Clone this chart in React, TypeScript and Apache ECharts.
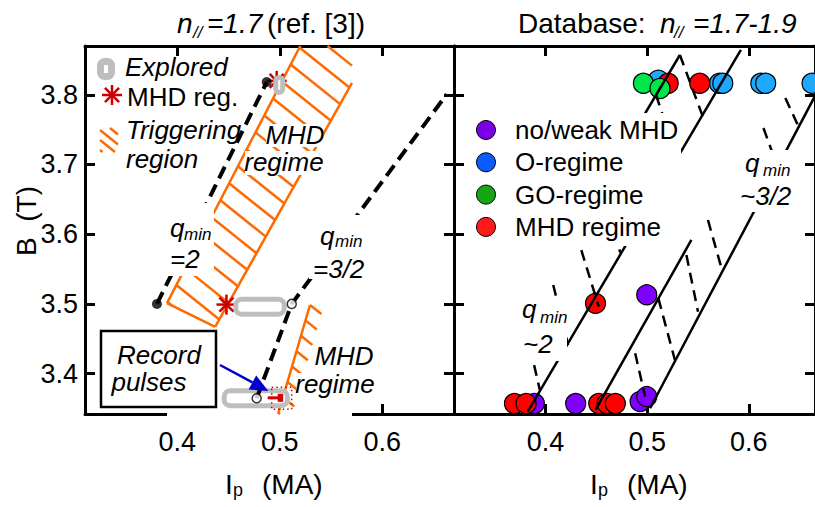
import React, { useEffect, useRef } from 'react';
import * as echarts from 'echarts';

// ---- axes ----
const xTicks = [0.4, 0.5, 0.6];
const yTicks = [3.4, 3.5, 3.6, 3.7, 3.8];
const X_MIN = 0.31;
const X_MAX_LEFT = 0.67;
const X_MAX_RIGHT = 0.6651;
const Y_MIN = 3.342;
const Y_MAX = 3.87;

// ---- left panel: n// = 1.7 (ref. [3]) ----
const qmin2Line = [[0.3802, 3.5], [0.4873, 3.8183]];
const qmin32Line = [[0.4775, 3.3645], [0.5117, 3.5], [0.6629, 3.8007]];
const qminEndsFilled = [[0.3802, 3.5], [0.4873, 3.8183]];
const qminEndsOpen = [[0.5117, 3.5], [0.4775, 3.3645]];

// hatched triggering band (upper MHD regime) and lower MHD regime boundary
const triggerBandI = [0.52, 0.5705, 0.5705, 0.437, 0.39];
const triggerBandB = [3.87, 3.87, 3.817, 3.467, 3.501];
const lowerRegimeI = [0.5295, 0.4984, 0.512, 0.5432];
const lowerRegimeB = [3.4984, 3.342, 3.342, 3.4984];

// explored I_p ranges: [I_from, I_to, B]
const exploredRanges = [
  [0.4995, 0.4995, 3.814],
  [0.4605, 0.5009, 3.496],
  [0.4492, 0.5041, 3.3645],
];
const mhdPulses = [[0.497, 3.82], [0.448, 3.499]];
const recordPulse = [[0.5019, 3.3645]];
const recordArrow = [[0.4417, 3.4123, 0.4888, 3.375]];

// ---- right panel: database n// = 1.7-1.9 ----
const noWeakI = [0.389, 0.4297, 0.4931, 0.4996, 0.4996];
const noWeakB = [3.357, 3.357, 3.36, 3.367, 3.513];
const oRegimeI = [0.511, 0.5712, 0.5744, 0.6118, 0.6166, 0.6622];
const oRegimeB = [3.821, 3.8165, 3.8165, 3.8165, 3.8165, 3.8165];
const mhdRegimeI = [0.3695, 0.3809, 0.4524, 0.4605, 0.4687, 0.4492, 0.5207, 0.5517];
const mhdRegimeB = [3.357, 3.357, 3.357, 3.357, 3.357, 3.5008, 3.8165, 3.8165];
const goRegimeI = [0.4963, 0.5126];
const goRegimeB = [3.8165, 3.809];

// q_min boundaries: [I1, B1, I2, B2]
const solidSegs = [
  [0.3825, 3.3453, 0.5922, 3.8643],
  [0.4492, 3.3478, 0.5435, 3.5917],
  [0.5029, 3.3502, 0.665, 3.798],
  [0.4876, 3.748, 0.5322, 3.8571],
];
const dashedSegs = [
  [0.3809, 3.4625, 0.3944, 3.3765],
  [0.4076, 3.5271, 0.4222, 3.441],
  [0.43, 3.6017, 0.4524, 3.496],
  [0.4622, 3.6275, 0.4736, 3.5734],
  [0.5322, 3.8571, 0.5549, 3.7681],
  [0.5087, 3.7997, 0.5207, 3.748],
  [0.4882, 3.4291, 0.498, 3.3669],
  [0.511, 3.508, 0.5273, 3.4195],
  [0.5386, 3.5701, 0.55, 3.4888],
  [0.5598, 3.6204, 0.5727, 3.5534],
  [0.6144, 3.7524, 0.6251, 3.7093],
  [0.6359, 3.7954, 0.6495, 3.7524],
];

const FONT = '"Liberation Sans", Arial, Helvetica, sans-serif';
const ORANGE = '#ff6a00';
const GREY = '#bebebe';
const MHD_RED = '#cc0000';

const zip = (a: number[], b: number[]) => a.map((v, i) => [v, b[i]]);

const hatchRegions = [
  { I: triggerBandI, B: triggerBandB, stroked: [2, 3, 4], step: 24 },
  { I: lowerRegimeI, B: lowerRegimeB, stroked: [0], step: 19 },
];

// hatch lines of slope `k` (screen space) clipped to a convex polygon
function hatchSegments(pts: number[][], k: number, step: number) {
  const cs = pts.map((p) => p[1] - k * p[0]);
  const cmin = Math.min(...cs);
  const cmax = Math.max(...cs);
  const out: number[][][] = [];
  for (let c = Math.ceil(cmin / step) * step; c < cmax; c += step) {
    const hits: number[][] = [];
    for (let i = 0; i < pts.length; i++) {
      const a = pts[i];
      const b = pts[(i + 1) % pts.length];
      const fa = a[1] - k * a[0] - c;
      const fb = b[1] - k * b[0] - c;
      if ((fa <= 0 && fb > 0) || (fa > 0 && fb <= 0)) {
        const t = fa / (fa - fb);
        hits.push([a[0] + t * (b[0] - a[0]), a[1] + t * (b[1] - a[1])]);
      }
    }
    if (hits.length >= 2) {
      hits.sort((p, q) => p[0] - q[0]);
      out.push([hits[0], hits[hits.length - 1]]);
    }
  }
  return out;
}

const seg = (a: number[], b: number[], stroke: string, lineWidth: number) => ({
  type: 'line',
  shape: { x1: a[0], y1: a[1], x2: b[0], y2: b[1] },
  style: { stroke, lineWidth },
});

function xAxis(gridIndex: number, position: string, max: number, labels: boolean) {
  return {
    type: 'value',
    gridIndex,
    position,
    min: X_MIN,
    max,
    axisLine: { show: true, onZero: false, lineStyle: { color: '#000', width: 3 } },
    axisTick: { show: true, inside: true, length: 10, customValues: xTicks, lineStyle: { color: '#000', width: 3 } },
    axisLabel: {
      show: labels,
      customValues: xTicks,
      margin: 14,
      color: '#000',
      fontSize: 27,
      fontFamily: FONT,
      formatter: (v: number) => v.toFixed(1),
    },
    splitLine: { show: false },
  };
}

function yAxis(gridIndex: number, position: string, labels: boolean) {
  return {
    type: 'value',
    gridIndex,
    position,
    min: Y_MIN,
    max: Y_MAX,
    axisLine: { show: true, onZero: false, lineStyle: { color: '#000', width: 3 } },
    axisTick: { show: true, inside: true, length: 10, customValues: yTicks, lineStyle: { color: '#000', width: 3 } },
    axisLabel: {
      show: labels,
      customValues: yTicks,
      margin: 7,
      color: '#000',
      fontSize: 27,
      fontFamily: FONT,
      formatter: (v: number) => v.toFixed(1),
    },
    splitLine: { show: false },
  };
}

function txt(text: string, x: number, y: number, size: number, italic = false, align = 'left') {
  return {
    type: 'text',
    z: 12,
    silent: true,
    style: {
      text,
      x,
      y,
      font: `${italic ? 'italic ' : ''}${size}px ${FONT}`,
      fill: '#000',
      textAlign: align,
      align,
      textVerticalAlign: 'middle',
      verticalAlign: 'middle',
    },
  };
}

function whiteBox(x: number, y: number, width: number, height: number, z = 11) {
  return { type: 'rect', z, silent: true, shape: { x, y, width, height }, style: { fill: '#fff' } };
}

const legendEntries = [
  { name: 'no/weak MHD', color: '#7a00e6' },
  { name: 'O-regime', color: '#0a5cff' },
  { name: 'GO-regime', color: '#15a515' },
  { name: 'MHD regime', color: '#ff1a1a' },
];

function buildGraphic() {
  const els: any[] = [];
  // white patch of the inset figure over the lower frame
  els.push({ type: 'rect', z: 1, silent: true, shape: { x: 167, y: 408, width: 185, height: 11 }, style: { fill: '#fff' } });

  // titles
  els.push(txt('n', 177, 23, 28, true));
  els.push(txt('//', 193, 32, 17, true));
  els.push(txt('=1.7', 207, 23, 28, true));
  els.push(txt('(ref. [3])', 267, 23, 28));
  els.push(txt('Database:', 518, 23, 28));
  els.push(txt('n', 660, 23, 28, true));
  els.push(txt('//', 674, 32, 17, true));
  els.push(txt('=1.7-1.9', 693, 23, 28, true));

  // axis names
  [[225, 233, 262], [590, 598, 627]].forEach(([a, b, c]) => {
    els.push(txt('I', a, 484, 28));
    els.push(txt('p', b, 490, 18));
    els.push(txt('(MA)', c, 484, 28));
  });
  els.push({
    type: 'text',
    z: 12,
    silent: true,
    x: 26,
    y: 221,
    rotation: Math.PI / 2,
    style: { text: 'B  (T)', x: 0, y: 0, font: `28px ${FONT}`, fill: '#000', textAlign: 'center', align: 'center', textVerticalAlign: 'middle', verticalAlign: 'middle' },
  });

  // left legend
  els.push({ type: 'rect', z: 12, silent: true, shape: { x: 100.5, y: 61.5, width: 11, height: 15, r: 4 }, style: { fill: '#fff', stroke: GREY, lineWidth: 7 } });
  els.push(txt('Explored', 125, 67, 26, true));
  [0, 45, 90, 135].forEach((deg) => {
    const a = (deg * Math.PI) / 180;
    els.push({ ...seg([112 - 10 * Math.cos(a), 95 - 10 * Math.sin(a)], [112 + 10 * Math.cos(a), 95 + 10 * Math.sin(a)], MHD_RED, 2.5), z: 12, silent: true });
  });
  els.push(txt('MHD reg.', 127, 97, 26));
  const icon = [[100, 128], [118, 128], [118, 152], [100, 152]];
  hatchSegments(icon, 0.8, 10).forEach(([a, b]) => els.push({ ...seg(a, b, ORANGE, 2.5), z: 12, silent: true }));
  els.push(txt('Triggering', 126, 130, 26, true));
  els.push(txt('region', 126, 159, 26, true));

  // regime labels in the hatched areas
  els.push(whiteBox(266, 124, 58, 23));
  els.push(txt('MHD', 295, 135, 26, true, 'center'));
  els.push(whiteBox(245, 151, 78, 24));
  els.push(txt('regime', 284, 162, 26, true, 'center'));
  els.push(whiteBox(315, 345, 58, 23));
  els.push(txt('MHD', 344, 356, 26, true, 'center'));
  els.push(whiteBox(296, 373, 78, 24));
  els.push(txt('regime', 335, 384, 26, true, 'center'));

  // q_min labels
  const qLabels = [
    { box: [166, 203, 48, 73], q: [170, 227.5], sub: [184, 234], val: '=2', v: [170, 259] },
    { box: [309, 215, 57, 64], q: [320, 236], sub: [335, 241], val: '=3/2', v: [313, 269] },
    { box: [518, 296, 49, 65], q: [522, 309], sub: [540, 317], val: '~2', v: [523, 344] },
    { box: [737, 150, 54, 62], q: [745, 163], sub: [763, 170], val: '~3/2', v: [740, 196] },
  ];
  qLabels.forEach((l) => {
    els.push(whiteBox(l.box[0], l.box[1], l.box[2], l.box[3]));
    els.push(txt('q', l.q[0], l.q[1], 26, true));
    els.push(txt('min', l.sub[0], l.sub[1], 17, true));
    els.push(txt(l.val, l.v[0], l.v[1], 26, true));
  });

  // record pulses callout
  els.push({ type: 'rect', z: 11, silent: true, shape: { x: 101, y: 331, width: 115, height: 76 }, style: { fill: '#fff', stroke: '#000', lineWidth: 2.5 } });
  els.push(txt('Record', 159, 355, 26, true, 'center'));
  els.push(txt('pulses', 149, 382, 26, true, 'center'));

  // right legend
  els.push(whiteBox(468, 113, 213, 133));
  legendEntries.forEach((e, i) => {
    const y = 130 + i * 32.3;
    els.push({ type: 'circle', z: 12, silent: true, shape: { cx: 486, cy: y, r: 9.5 }, style: { fill: e.color, stroke: '#000', lineWidth: 1 } });
    els.push(txt(e.name, 515, y, 26));
  });
  return els;
}

function scatter(name: string, I: number[], B: number[], color: string) {
  return {
    name,
    type: 'scatter',
    xAxisIndex: 2,
    yAxisIndex: 2,
    clip: false,
    z: 2,
    symbolSize: 20,
    itemStyle: { color, borderColor: '#000', borderWidth: 1.2, opacity: 1 },
    data: zip(I, B),
  };
}

function buildOption() {
  return {
    animation: false,
    backgroundColor: '#fff',
    grid: [
      { left: 85, top: 46, width: 369, height: 368 },
      { left: 454, top: 46, width: 364, height: 368 },
    ],
    xAxis: [
      xAxis(0, 'bottom', X_MAX_LEFT, true),
      xAxis(0, 'top', X_MAX_LEFT, false),
      xAxis(1, 'bottom', X_MAX_RIGHT, true),
      xAxis(1, 'top', X_MAX_RIGHT, false),
    ],
    yAxis: [yAxis(0, 'left', true), yAxis(0, 'right', false), yAxis(1, 'left', false), yAxis(1, 'right', false)],
    graphic: { elements: buildGraphic() },
    series: [
      // hatched regions
      {
        type: 'custom',
        xAxisIndex: 0,
        yAxisIndex: 0,
        z: 2,
        silent: true,
        data: hatchRegions.map((r) => [r.I[0], r.B[0]]),
        renderItem: (params: any, api: any) => {
          const reg = hatchRegions[params.dataIndex];
          const pts = reg.I.map((x, k) => api.coord([x, reg.B[k]]));
          const children: any[] = hatchSegments(pts, 0.8, reg.step).map(([a, b]) => seg(a, b, ORANGE, 2.5));
          reg.stroked.forEach((k) => children.push(seg(pts[k], pts[(k + 1) % pts.length], ORANGE, 2.5)));
          return { type: 'group', children };
        },
      },
      // MHD pulses
      {
        type: 'custom',
        xAxisIndex: 0,
        yAxisIndex: 0,
        z: 3,
        silent: true,
        data: mhdPulses,
        renderItem: (params: any, api: any) => {
          const [cx, cy] = api.coord([api.value(0), api.value(1)]);
          const r = 10;
          return {
            type: 'group',
            children: [0, 45, 90, 135].map((deg) => {
              const a = (deg * Math.PI) / 180;
              return seg([cx - r * Math.cos(a), cy - r * Math.sin(a)], [cx + r * Math.cos(a), cy + r * Math.sin(a)], MHD_RED, 2.5);
            }),
          };
        },
      },
      // explored ranges
      {
        type: 'custom',
        xAxisIndex: 0,
        yAxisIndex: 0,
        z: 4,
        silent: true,
        encode: { x: [0, 1], y: 2 },
        data: exploredRanges,
        renderItem: (params: any, api: any) => {
          const p1 = api.coord([api.value(0), api.value(2)]);
          const p2 = api.coord([api.value(1), api.value(2)]);
          return {
            type: 'rect',
            shape: { x: p1[0] - 3.5, y: p1[1] - 7.5, width: p2[0] - p1[0] + 7, height: 15, r: 6 },
            style: { fill: '#fff', stroke: GREY, lineWidth: 5 },
          };
        },
      },
      // q_min contours (ref. [3])
      {
        type: 'lines',
        coordinateSystem: 'cartesian2d',
        xAxisIndex: 0,
        yAxisIndex: 0,
        polyline: true,
        z: 5,
        silent: true,
        lineStyle: { color: '#000', width: 4, type: [13, 7], opacity: 1 },
        data: [{ coords: qmin2Line }, { coords: qmin32Line }],
      },
      {
        type: 'scatter',
        xAxisIndex: 0,
        yAxisIndex: 0,
        z: 6,
        silent: true,
        symbolSize: 10,
        itemStyle: { color: '#000' },
        data: qminEndsFilled,
      },
      {
        type: 'scatter',
        xAxisIndex: 0,
        yAxisIndex: 0,
        z: 6,
        silent: true,
        symbolSize: 9,
        itemStyle: { color: '#fff', borderColor: '#000', borderWidth: 1.5 },
        data: qminEndsOpen,
      },
      // record pulse marker
      {
        type: 'custom',
        xAxisIndex: 0,
        yAxisIndex: 0,
        z: 6,
        silent: true,
        data: recordPulse,
        renderItem: (params: any, api: any) => {
          const [cx, cy] = api.coord([api.value(0), api.value(1)]);
          return {
            type: 'group',
            children: [
              { type: 'rect', shape: { x: cx - 10, y: cy - 11, width: 20, height: 22 }, style: { fill: 'none', stroke: '#d40000', lineWidth: 1.5, lineDash: [1.5, 3] } },
              seg([cx - 14, cy - 0.5], [cx - 3.5, cy - 0.5], '#d40000', 3),
              { type: 'rect', shape: { x: cx - 4, y: cy - 4.5, width: 5.5, height: 8 }, style: { fill: '#d40000' } },
            ],
          };
        },
      },
      // arrow to the record pulses
      {
        type: 'custom',
        xAxisIndex: 0,
        yAxisIndex: 0,
        z: 7,
        silent: true,
        encode: { x: [0, 2], y: [1, 3] },
        data: recordArrow,
        renderItem: (params: any, api: any) => {
          const a = api.coord([api.value(0), api.value(1)]);
          const b = api.coord([api.value(2), api.value(3)]);
          const dx = b[0] - a[0];
          const dy = b[1] - a[1];
          const L = Math.hypot(dx, dy);
          const ux = dx / L;
          const uy = dy / L;
          const head = 18;
          const hw = 8;
          const base = [b[0] - ux * head, b[1] - uy * head];
          return {
            type: 'group',
            children: [
              seg(a, base, '#0000cc', 2.5),
              {
                type: 'polygon',
                shape: { points: [b, [base[0] - uy * hw, base[1] + ux * hw], [base[0] + uy * hw, base[1] - ux * hw]] },
                style: { fill: '#0000cc' },
              },
            ],
          };
        },
      },
      // database points
      scatter('no/weak MHD', noWeakI, noWeakB, '#8000ff'),
      scatter('O-regime', oRegimeI, oRegimeB, '#1ea8ff'),
      scatter('MHD regime', mhdRegimeI, mhdRegimeB, '#ff0000'),
      scatter('GO-regime', goRegimeI, goRegimeB, '#00e64d'),
      // q_min boundaries for the database
      {
        type: 'lines',
        coordinateSystem: 'cartesian2d',
        xAxisIndex: 2,
        yAxisIndex: 2,
        z: 5,
        silent: true,
        lineStyle: { color: '#000', width: 2.5, type: 'solid', opacity: 1 },
        data: solidSegs.map((s) => ({ coords: [[s[0], s[1]], [s[2], s[3]]] })),
      },
      {
        type: 'lines',
        coordinateSystem: 'cartesian2d',
        xAxisIndex: 2,
        yAxisIndex: 2,
        z: 5,
        silent: true,
        lineStyle: { color: '#000', width: 2.5, type: [11, 7], opacity: 1 },
        data: dashedSegs.map((s) => ({ coords: [[s[0], s[1]], [s[2], s[3]]] })),
      },
    ],
  };
}

export default function App() {
  const ref = useRef<HTMLDivElement>(null);
  useEffect(() => {
    const chart = echarts.init(ref.current as HTMLDivElement, null, { renderer: 'svg' });
    chart.setOption(buildOption() as any);
    return () => chart.dispose();
  }, []);
  return (
    <div
      ref={ref}
      style={{ position: 'fixed', left: 0, top: 0, width: 815, height: 507, background: '#fff' }}
    />
  );
}
